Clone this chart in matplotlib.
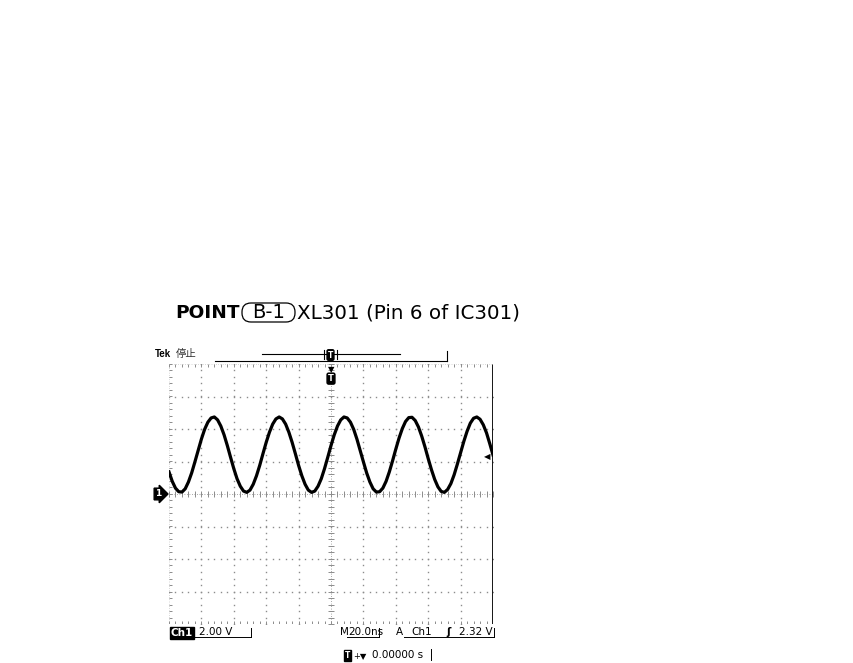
import numpy as np
import matplotlib
matplotlib.use("Agg")
import matplotlib.pyplot as plt
from matplotlib.lines import Line2D
from matplotlib.patches import FancyBboxPatch

# screen readings in divisions (20.0 ns/div horizontal, 2.00 V/div vertical)
time_div = [round(-5 + 0.1 * i, 1) for i in range(101)]
ch1_div = [0.68, 0.39, 0.18, 0.07, 0.06, 0.16, 0.37, 0.65, 0.99, 1.34,
           1.69, 1.99, 2.21, 2.34, 2.37, 2.28, 2.09, 1.82, 1.49, 1.13,
           0.78, 0.47, 0.24, 0.09, 0.05, 0.12, 0.3, 0.56, 0.88, 1.24,
           1.59, 1.9, 2.15, 2.31, 2.37, 2.31, 2.15, 1.9, 1.59, 1.24,
           0.88, 0.56, 0.3, 0.12, 0.05, 0.09, 0.24, 0.47, 0.78, 1.13,
           1.49, 1.82, 2.09, 2.28, 2.37, 2.34, 2.21, 1.99, 1.69, 1.34,
           0.99, 0.65, 0.37, 0.16, 0.06, 0.07, 0.18, 0.39, 0.68, 1.02,
           1.38, 1.72, 2.01, 2.23, 2.35, 2.36, 2.26, 2.06, 1.78, 1.45,
           1.09, 0.75, 0.45, 0.22, 0.08, 0.05, 0.14, 0.32, 0.59, 0.92,
           1.27, 1.62, 1.93, 2.18, 2.33, 2.37, 2.3, 2.13, 1.88, 1.55, 1.2]
trig_level_div = 1.16

W, H = 854, 663
def fx(p):
    return p / W
def fy(p):
    return 1 - p / H

fig = plt.figure(figsize=(8.54, 6.63), dpi=100)
ax = fig.add_axes([fx(169), fy(624), fx(493) - fx(169), fy(364) - fy(624)])
ax.set_xlim(-5, 5)
ax.set_ylim(-4, 4)
ax.axis("off")

grid_c = "#8c8c8c"
fine_x = np.arange(-5, 5.001, 0.2)
fine_y = np.arange(-4, 4.001, 0.2)

# dotted graticule
for gx in range(-4, 5):
    if gx != 0:
        ax.plot(np.full_like(fine_y, gx), fine_y, ls="none", marker="s",
                ms=1.0, mew=0, color=grid_c)
for gy in range(-3, 4):
    if gy != 0:
        ax.plot(fine_x, np.full_like(fine_x, gy), ls="none", marker="s",
                ms=1.0, mew=0, color=grid_c)

# centre crosshair with minor ticks
ax.plot(fine_x, np.zeros_like(fine_x), ls="none", marker="|", ms=4,
        mew=0.7, color=grid_c)
ax.plot(np.zeros_like(fine_y), fine_y, ls="none", marker="_", ms=4,
        mew=0.7, color=grid_c)
ax.plot([-5, 5], [0, 0], ls=(0, (1, 2)), lw=0.6, color=grid_c)
ax.plot([0, 0], [-4, 4], ls=(0, (1, 2)), lw=0.6, color=grid_c)

# edge ticks
ax.vlines(fine_x, 3.9, 4, color=grid_c, lw=0.7)
ax.vlines(fine_x, -4, -3.9, color=grid_c, lw=0.7)
ax.hlines(fine_y, -5, -4.9, color=grid_c, lw=0.7)
ax.plot([-5, 5], [4, 4], color=grid_c, lw=0.4, ls=(0, (1, 3)))
ax.plot([-5, -5], [-4, 4], color=grid_c, lw=0.4, ls=(0, (1, 3)))
ax.plot([-5, 5], [-4, -4], color=grid_c, lw=0.4, ls=(0, (1, 3)))
ax.plot([5, 5], [-4, 4], color="black", lw=2.0, solid_capstyle="butt")

# waveform
ax.plot(time_div, ch1_div, color="black", lw=2.3, solid_joinstyle="round")

# ground marker, trigger position, trigger level
ax.text(-5.32, 0, "1", color="white", fontsize=6.5, fontweight="bold",
        ha="center", va="center", clip_on=False,
        bbox=dict(boxstyle="rarrow,pad=0.15", fc="black", ec="black"))
ax.text(0, 3.82, "\u25bc", fontsize=6, ha="center", va="center", clip_on=False)
ax.text(0, 3.55, "T", color="white", fontsize=6, fontweight="bold",
        ha="center", va="center", clip_on=False,
        bbox=dict(boxstyle="round,pad=0.12,rounding_size=0.2", fc="black", ec="black"))
ax.text(4.83, trig_level_div, "\u25c0", fontsize=6, ha="center", va="center")

# title
fig.text(fx(175), fy(318), "POINT", fontsize=13.3, fontweight="bold",
         family="DejaVu Sans", va="baseline")
fig.text(fx(268.5), fy(318), "B-1", fontsize=14, family="DejaVu Sans",
         va="baseline", ha="center")
fig.patches.append(FancyBboxPatch((2.42, (H - 322) / 100), 0.53, 0.19,
                                  boxstyle="round,pad=0,rounding_size=0.09",
                                  fc="none", ec="black", lw=0.9,
                                  transform=fig.dpi_scale_trans, figure=fig))
fig.text(fx(297), fy(318), "XL301 (Pin 6 of IC301)", fontsize=14.3,
         family="DejaVu Sans", va="baseline")

# header
fig.text(fx(155), fy(357), "Tek", fontsize=7, fontweight="bold",
         family="Liberation Sans", va="baseline")
fig.text(fx(176), fy(357), "停止", fontsize=7.5,
         family=["Noto Sans CJK JP", "DejaVu Sans"], va="baseline", color="#333333")
for xs, ys in [([215, 447], [361, 361]), ([447, 447], [351, 361]),
               ([262, 400], [354, 354]), ([324, 324], [350, 359]),
               ([337, 337], [350, 359])]:
    fig.add_artist(Line2D([fx(v) for v in xs], [fy(v) for v in ys],
                          color="black", lw=0.8))
fig.text(fx(330.5), fy(355), "T", color="white", fontsize=5.5, fontweight="bold",
         ha="center", va="center",
         bbox=dict(boxstyle="round,pad=0.1,rounding_size=0.2", fc="black", ec="black"))

# bottom readouts
bfs = 7.5
fig.text(fx(171), fy(636), "Ch1", fontsize=bfs, fontweight="bold", color="white",
         va="baseline", family="DejaVu Sans",
         bbox=dict(boxstyle="square,pad=0.05", fc="black", ec="black"))
fig.text(fx(199), fy(635), "2.00 V", fontsize=bfs, va="baseline", family="DejaVu Sans")
fig.text(fx(340), fy(635), "M", fontsize=bfs, va="baseline", family="DejaVu Sans")
fig.text(fx(348), fy(635), "20.0ns", fontsize=bfs, va="baseline", family="DejaVu Sans")
fig.text(fx(396), fy(635), "A", fontsize=bfs, va="baseline", family="DejaVu Sans")
fig.text(fx(411), fy(635), "Ch1", fontsize=bfs, va="baseline", family="DejaVu Sans")
fig.text(fx(446), fy(635), "\u0283", fontsize=bfs, va="baseline", family="DejaVu Sans",
         fontweight="bold")
fig.text(fx(493), fy(635), "2.32 V", fontsize=bfs, va="baseline", ha="right",
         family="DejaVu Sans")
for xs, ys in [([188, 251], [637, 637]), ([251, 251], [628, 637]),
               ([347, 379], [637, 637]), ([379, 379], [628, 637]),
               ([404, 494], [637, 637]), ([494, 494], [628, 637]),
               ([431, 431], [649, 660])]:
    fig.add_artist(Line2D([fx(v) for v in xs], [fy(v) for v in ys],
                          color="black", lw=0.7))
fig.text(fx(345), fy(658), "T", color="white", fontsize=5.5, fontweight="bold",
         va="baseline",
         bbox=dict(boxstyle="square,pad=0.1", fc="black", ec="black"))
fig.text(fx(353), fy(658), "+\u25bc", fontsize=6, va="baseline", family="DejaVu Sans")
fig.text(fx(372), fy(658), "0.00000 s", fontsize=bfs, va="baseline", family="DejaVu Sans")

fig.savefig("out.png", dpi=100)
